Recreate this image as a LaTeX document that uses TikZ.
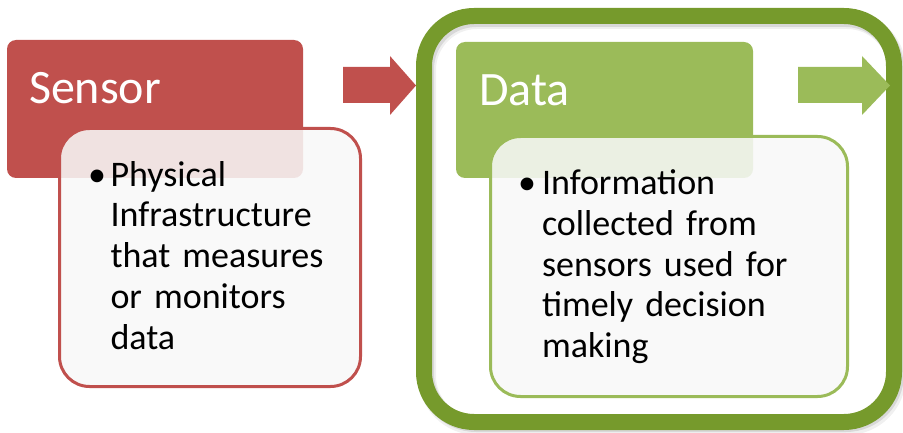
\documentclass[tikz,border=0pt]{standalone}
\usepackage{fontspec}
\setmainfont{Carlito}
\definecolor{sensorred}{HTML}{C0504D}
\definecolor{leafgreen}{HTML}{9BBB59}
\definecolor{framegreen}{HTML}{769A2C}
\definecolor{bodyfill}{HTML}{F8F8F8}
\begin{document}
\begin{tikzpicture}[x=1pt,y=-1pt, every node/.style={outer sep=0pt},
  headbox/.style={rounded corners=9pt, inner sep=0pt, anchor=north west},
  bodybox/.style={rounded corners=30pt, line width=3pt, fill=bodyfill, fill opacity=0.87,
    inner sep=0pt, anchor=north west},
  title/.style={anchor=base west, inner sep=0pt, text=white, font=\fontsize{48}{58}\selectfont},
  bullet/.style={anchor=base, inner sep=0pt, font=\fontsize{36}{41}\selectfont},
  bodytext/.style={anchor=base west, inner sep=0pt, text width=300pt, align=left,
    font=\fontsize{36}{40.8}\selectfont}]
\useasboundingbox (0,0) rectangle (903,433);

% Sensor stage
\node[headbox, fill=sensorred, minimum width=296pt, minimum height=138pt] (sensorhead) at (7,40) {};
\node[title] (sensortitle) at (29,104) {Sensor};
\node[bodybox, draw=sensorred, minimum width=301pt, minimum height=258pt] (sensorbody) at (59.5,128.5) {};
\node[bullet] (sensordot) at (97,186) {•};
\node[bodytext] (sensortext) at (110.5,186) {Physical\\Infrastructure\\that measures\\or monitors\\data};
\fill[sensorred] (343,67) -- (390,67) -- (390,56) -- (416,85.5) -- (390,115) -- (390,103) -- (343,103) -- cycle;

% Highlight frame around the Data stage, with its soft shadow
\draw[line width=18pt, rounded corners=50pt, black, opacity=0.06] (427,20) rectangle (897,426);
\draw[line width=16pt, rounded corners=50pt, black, opacity=0.10] (426,19) rectangle (896,424);
\node[rounded corners=50pt, draw=framegreen, line width=16pt, minimum width=470pt, minimum height=406pt,
  inner sep=0pt, anchor=north west] (frame) at (424,16) {};

% Data stage
\node[headbox, fill=leafgreen, minimum width=297pt, minimum height=136pt] (datahead) at (456,42) {};
\node[title] (datatitle) at (479,106) {Data};
\node[bodybox, draw=leafgreen, minimum width=357pt, minimum height=260pt] (databody) at (490.5,136.5) {};
\node[bullet] (datadot) at (527,194.5) {•};
\node[bodytext] (datatext) at (542,194.5) {Information\\collected from\\sensors used for\\timely decision\\making};
\fill[leafgreen] (798,67) -- (862,67) -- (862,56) -- (890,85.5) -- (862,115) -- (862,103) -- (798,103) -- cycle;
\end{tikzpicture}
\end{document}
